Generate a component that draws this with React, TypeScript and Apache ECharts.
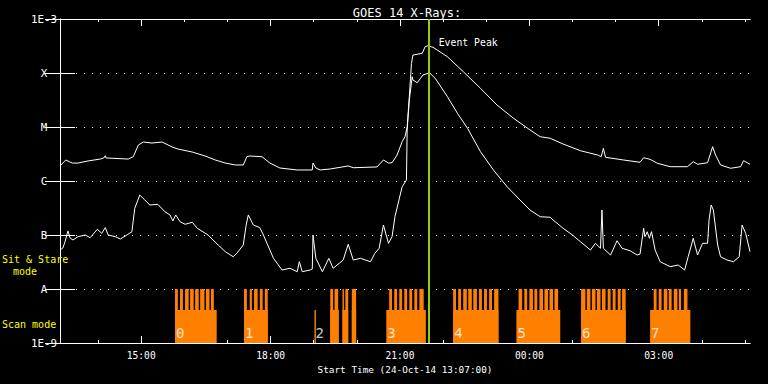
import React, { useEffect, useRef } from "react";
import * as echarts from "echarts";

// ---------- data ----------
const START_CLOCK = "13:07"; // start time of the plot (24-Oct-14)
const SPAN_MIN = 960; // 16 hours shown

const majorTickLabels = ["15:00", "18:00", "21:00", "00:00", "03:00"];
const minorTickLabels = [
  "14:00", "15:00", "16:00", "17:00", "18:00", "19:00", "20:00", "21:00",
  "22:00", "23:00", "00:00", "01:00", "02:00", "03:00", "04:00", "05:00",
];

const fluxClassValues = [1e-9, 1e-8, 1e-7, 1e-6, 1e-5, 1e-4, 1e-3];
const fluxClassLabels = ["1E-9", "A", "B", "C", "M", "X", "1E-3"];

// [minutes after start, flux W/m^2]
const xrsLong: [number, number][] = [
  [0, 1.9e-6], [8, 2.45e-6], [17, 2.15e-6], [25, 2.15e-6], [39, 2.35e-6], [56, 2.55e-6],
  [61, 2.67e-6], [63, 2.94e-6], [64, 2.67e-6], [95, 2.55e-6], [102, 2.82e-6], [109, 4.64e-6],
  [116, 5.27e-6], [128, 5.05e-6], [142, 5.27e-6], [156, 4.26e-6], [164, 3.91e-6], [184, 3.44e-6],
  [202, 2.9e-6], [216, 2.45e-6], [230, 2.15e-6], [244, 1.98e-6], [255, 1.98e-6], [260, 2.82e-6],
  [264, 2.9e-6], [281, 2.82e-6], [292, 2.15e-6], [306, 1.74e-6], [330, 1.6e-6], [351, 1.6e-6],
  [352, 2.15e-6], [356, 1.74e-6], [362, 1.6e-6], [376, 1.67e-6], [401, 1.9e-6], [408, 1.76e-6],
  [441, 1.82e-6], [450, 2.45e-6], [457, 2.15e-6], [462, 2.18e-6], [469, 3.03e-6], [476, 5.35e-6],
  [480, 6.61e-6], [483, 1.01e-5], [486, 3.64e-5], [489, 1.51e-4], [491, 2.15e-4], [504, 2.32e-4],
  [508, 3.07e-4], [512, 3.2e-4], [519, 2.99e-4], [539, 2.0e-4], [561, 1.06e-4], [585, 5.21e-5],
  [608, 2.55e-5], [631, 1.45e-5], [654, 8.8e-6], [668, 6.61e-6], [682, 6.18e-6], [700, 4.84e-6],
  [724, 3.64e-6], [748, 3.03e-6], [753, 2.82e-6], [756, 4.03e-6], [759, 2.75e-6], [784, 2.45e-6],
  [807, 2.22e-6], [812, 2.7e-6], [821, 2.52e-6], [831, 2.13e-6], [849, 1.84e-6], [873, 1.84e-6],
  [881, 2.28e-6], [887, 2.04e-6], [901, 2.18e-6], [908, 4.32e-6], [912, 3.03e-6], [919, 1.98e-6],
  [933, 1.72e-6], [947, 1.84e-6], [951, 2.38e-6], [960, 2.04e-6],
];

const xrsShort: [number, number][] = [
  [0, 5.27e-8], [4, 5.74e-8], [7, 7.51e-8], [11, 1.19e-7], [14, 8.8e-8], [18, 8.08e-8],
  [25, 9.3e-8], [35, 1.0e-7], [42, 8.91e-8], [52, 1.28e-7], [58, 1.07e-7], [63, 1.37e-7],
  [67, 1.0e-7], [77, 9.3e-8], [84, 8.43e-8], [93, 1.0e-7], [100, 1.15e-7], [104, 3.12e-7],
  [111, 5.5e-7], [118, 4.45e-7], [125, 3.59e-7], [136, 3.7e-7], [146, 2.7e-7], [153, 2.35e-7],
  [157, 1.82e-7], [161, 2.35e-7], [167, 1.76e-7], [174, 1.58e-7], [184, 1.72e-7], [191, 1.33e-7],
  [206, 1.0e-7], [220, 6.53e-8], [230, 4.91e-8], [241, 3.96e-8], [246, 4.58e-8], [255, 6.53e-8],
  [259, 1.53e-7], [262, 2.35e-7], [269, 1.53e-7], [278, 1.37e-7], [283, 1.0e-7], [297, 3.7e-8],
  [309, 2.25e-8], [320, 2.42e-8], [330, 2.09e-8], [333, 3.2e-8], [337, 2.09e-8], [348, 2.25e-8],
  [351, 2.35e-8], [352, 1.0e-7], [356, 3.7e-8], [365, 2.09e-8], [374, 3.7e-8], [380, 2.42e-8],
  [394, 3.44e-8], [401, 6.73e-8], [408, 3.44e-8], [418, 3.7e-8], [432, 3.2e-8], [438, 4.58e-8],
  [444, 5.67e-8], [450, 1.53e-7], [457, 7.02e-8], [462, 9.3e-8], [466, 2.18e-7], [476, 7.84e-7],
  [482, 1.04e-6], [483, 8.8e-6], [486, 3.16e-5], [490, 8.54e-5], [491, 7.41e-5], [497, 6.61e-5],
  [505, 9.19e-5], [514, 1.01e-4], [522, 7.98e-5], [539, 3.64e-5], [553, 1.79e-5], [567, 9.46e-6],
  [585, 3.49e-6], [603, 1.6e-6], [622, 7.84e-7], [640, 4.45e-7], [654, 2.9e-7], [668, 2.18e-7],
  [682, 2.13e-7], [686, 1.9e-7], [700, 1.33e-7], [713, 1.0e-7], [724, 7.51e-8], [738, 5.27e-8],
  [745, 7.02e-8], [752, 5.67e-8], [754, 2.9e-7], [756, 5.67e-8], [766, 4.26e-8], [775, 7.84e-8],
  [782, 5.67e-8], [793, 5.12e-8], [803, 4.26e-8], [807, 4.45e-8], [812, 1.33e-7], [814, 9.3e-8],
  [817, 1.15e-7], [820, 8.69e-8], [823, 1.15e-7], [828, 5.27e-8], [835, 3.2e-8], [849, 2.59e-8],
  [860, 2.78e-8], [869, 2.25e-8], [874, 3.96e-8], [881, 8.69e-8], [887, 4.26e-8], [894, 7.02e-8],
  [901, 7.02e-8], [903, 1.9e-7], [906, 3.59e-7], [909, 2.9e-7], [915, 6.53e-8], [919, 3.96e-8],
  [928, 3.44e-8], [937, 3.2e-8], [945, 3.96e-8], [949, 1.53e-7], [954, 1.07e-7], [960, 4.91e-8],
];

// Scan mode: [start min, end min] of scan blocks (low bars) and sit & stare dwells (tall bars)
const scanBlocks: [number, number][] = [
  [160, 218], [256, 289], [354, 356], [376, 388], [393, 401], [406, 412],
  [454, 509], [547, 610], [635, 696], [725, 787], [821, 877],
];
const stareDwells: [number, number][] = [
  [160, 164], [167, 171], [174, 179], [181, 186], [188, 193], [195, 201], [203, 208], [210, 214],
  [256, 260], [264, 267], [270, 275], [278, 282], [285, 289],
  [376, 380], [382, 387], [393, 395], [397, 401], [406, 412],
  [458, 462], [465, 469], [472, 476], [479, 483], [486, 490], [493, 497], [500, 506],
  [547, 551], [554, 558], [561, 566], [568, 573], [575, 580], [583, 587], [590, 594], [597, 601], [604, 610],
  [638, 643], [646, 650], [653, 658], [660, 664], [667, 672], [674, 679], [681, 686], [688, 693],
  [725, 731], [733, 738], [740, 745], [747, 752], [754, 759], [762, 766], [769, 773], [776, 780], [782, 787],
  [826, 830], [833, 837], [840, 845], [847, 851], [854, 859], [861, 864], [868, 873],
];
const scanLabelStarts = [160, 256, 354, 454, 547, 635, 725, 821];
const scanLabels = ["0", "1", "2", "3", "4", "5", "6", "7"];
const SCAN_LEVEL = 4.1e-9;
const STARE_LEVEL = 1e-8;
const SCAN_LABEL_LEVEL = 1.53e-9;

const EVENT_PEAK_MIN = 513; // 21:40
const EVENT_LABEL_FLUX = 3.6e-4;

// ---------- helpers ----------
const FONT = "DejaVu Sans Mono";
const clockToMin = (s: string) => {
  const [h, m] = s.split(":").map(Number);
  return h * 60 + m;
};
const startMin = clockToMin(START_CLOCK);
const clockToOffset = (s: string) => {
  let d = clockToMin(s) - startMin;
  if (d < 0) d += 1440;
  return d;
};
const majorOffsets = majorTickLabels.map(clockToOffset);
const minorOffsets = minorTickLabels.map(clockToOffset);

export default function App() {
  const ref = useRef<HTMLDivElement>(null);
  useEffect(() => {
    if (!ref.current) return;
    const chart = echarts.init(ref.current, null, { renderer: "svg" });

    const white = "#ffffff";
    const baseX = {
      type: "value",
      min: 0,
      max: SPAN_MIN,
      splitLine: { show: false },
      axisLine: { show: true, onZero: false, lineStyle: { color: white, width: 1 } },
    };
    const rects = [
      ...scanBlocks.map(([s, e]) => [s, e, SCAN_LEVEL]),
      ...stareDwells.map(([s, e]) => [s, e, STARE_LEVEL]),
    ];

    const option: any = {
      animation: false,
      backgroundColor: "#000000",
      textStyle: { fontFamily: FONT },
      title: {
        text: "GOES 14 X-Rays:",
        left: 402,
        top: 2,
        textAlign: "center",
        textStyle: { color: white, fontSize: 12, fontWeight: "normal", fontFamily: FONT },
      },
      grid: { left: 60, right: 18, top: 19, bottom: 41, containLabel: false },
      xAxis: [
        {
          ...baseX,
          position: "bottom",
          name: "Start Time (24-Oct-14 13:07:00)",
          nameLocation: "middle",
          nameGap: 21,
          nameTextStyle: { color: white, fontSize: 9.4, fontFamily: FONT },
          axisTick: { show: true, inside: true, length: 7, customValues: majorOffsets, lineStyle: { color: white } },
          axisLabel: {
            show: true,
            customValues: majorOffsets,
            margin: 7,
            color: white,
            fontSize: 9.6,
            fontFamily: FONT,
            formatter: (v: number) => {
              const i = majorOffsets.indexOf(v);
              return i >= 0 ? majorTickLabels[i] : "";
            },
          },
        },
        {
          ...baseX,
          position: "top",
          axisTick: { show: true, inside: true, length: 7, customValues: majorOffsets, lineStyle: { color: white } },
          axisLabel: { show: false },
        },
        {
          ...baseX,
          position: "bottom",
          axisTick: { show: true, inside: true, length: 3, customValues: minorOffsets, lineStyle: { color: white } },
          axisLabel: { show: false },
        },
        {
          ...baseX,
          position: "top",
          axisTick: { show: true, inside: true, length: 3, customValues: minorOffsets, lineStyle: { color: white } },
          axisLabel: { show: false },
        },
      ],
      yAxis: [
        {
          type: "log",
          logBase: 10,
          min: 1e-9,
          max: 1e-3,
          position: "left",
          axisLine: { show: true, lineStyle: { color: white, width: 1 } },
          axisTick: { show: true, inside: true, length: 15, lineStyle: { color: white } },
          axisLabel: {
            show: true,
            margin: 16,
            align: "center",
            color: white,
            fontSize: 10.8,
            fontFamily: FONT,
            formatter: (v: number) => {
              const i = fluxClassValues.findIndex((c) => Math.abs(Math.log10(c) - Math.log10(v)) < 0.01);
              return i >= 0 ? fluxClassLabels[i] : "";
            },
          },
          splitLine: {
            show: true,
            showMinLine: false,
            showMaxLine: false,
            lineStyle: { color: white, width: 1, type: [1, 7] },
          },
        },
        {
          type: "log",
          logBase: 10,
          min: 1e-9,
          max: 1e-3,
          position: "right",
          axisLine: { show: true, lineStyle: { color: white, width: 1 } },
          axisTick: { show: true, inside: true, length: 15, lineStyle: { color: white } },
          axisLabel: { show: false },
          splitLine: { show: false },
        },
      ],
      graphic: [
        { type: "text", x: 2, y: 259, z: 100, style: { text: "Sit & Stare", fill: "#ffff00", fontSize: 10, lineHeight: 11, fontFamily: FONT, verticalAlign: "middle" } },
        { type: "text", x: 13, y: 271, z: 100, style: { text: "mode", fill: "#ffff00", fontSize: 10, lineHeight: 11, fontFamily: FONT, verticalAlign: "middle" } },
        { type: "text", x: 2, y: 324, z: 100, style: { text: "Scan mode", fill: "#ffff00", fontSize: 10, lineHeight: 11, fontFamily: FONT, verticalAlign: "middle" } },
      ],
      series: [
        {
          type: "custom",
          name: "Scan mode",
          xAxisIndex: 0,
          yAxisIndex: 0,
          silent: true,
          clip: true,
          z: 1,
          data: rects,
          renderItem: (_params: any, api: any) => {
            const p0 = api.coord([api.value(0), api.value(2)]);
            const p1 = api.coord([api.value(1), 1e-9]);
            return {
              type: "rect",
              shape: { x: p0[0], y: p0[1], width: p1[0] - p0[0], height: p1[1] - p0[1] },
              style: { fill: "#ff8000" },
            };
          },
        },
        {
          type: "scatter",
          name: "Scan labels",
          xAxisIndex: 0,
          yAxisIndex: 0,
          silent: true,
          symbolSize: 0,
          z: 3,
          data: scanLabelStarts.map((m) => [m, SCAN_LABEL_LEVEL]),
          label: {
            show: true,
            position: "right",
            distance: 1,
            color: white,
            fontSize: 14,
            fontFamily: FONT,
            formatter: (p: any) => scanLabels[p.dataIndex],
          },
        },
        {
          type: "line",
          name: "1-8 A",
          xAxisIndex: 0,
          yAxisIndex: 0,
          showSymbol: false,
          silent: true,
          z: 4,
          lineStyle: { color: white, width: 1 },
          data: xrsLong,
          markLine: {
            silent: true,
            symbol: ["none", "none"],
            label: { show: false },
            lineStyle: { color: "#99cc00", width: 2, type: "solid" },
            data: [{ xAxis: EVENT_PEAK_MIN }],
          },
          markPoint: {
            silent: true,
            symbolSize: 0,
            label: {
              show: true,
              position: "right",
              distance: 10,
              color: white,
              fontSize: 9.8,
              fontFamily: FONT,
              formatter: "Event Peak",
            },
            data: [{ coord: [EVENT_PEAK_MIN, EVENT_LABEL_FLUX] }],
          },
        },
        {
          type: "line",
          name: "0.5-4 A",
          xAxisIndex: 0,
          yAxisIndex: 0,
          showSymbol: false,
          silent: true,
          z: 4,
          lineStyle: { color: white, width: 1 },
          data: xrsShort,
        },
      ],
    };
    chart.setOption(option);
    return () => chart.dispose();
  }, []);

  return (
    <div
      ref={ref}
      style={{ position: "absolute", left: 0, top: 0, width: 768, height: 384, background: "#000" }}
    />
  );
}
